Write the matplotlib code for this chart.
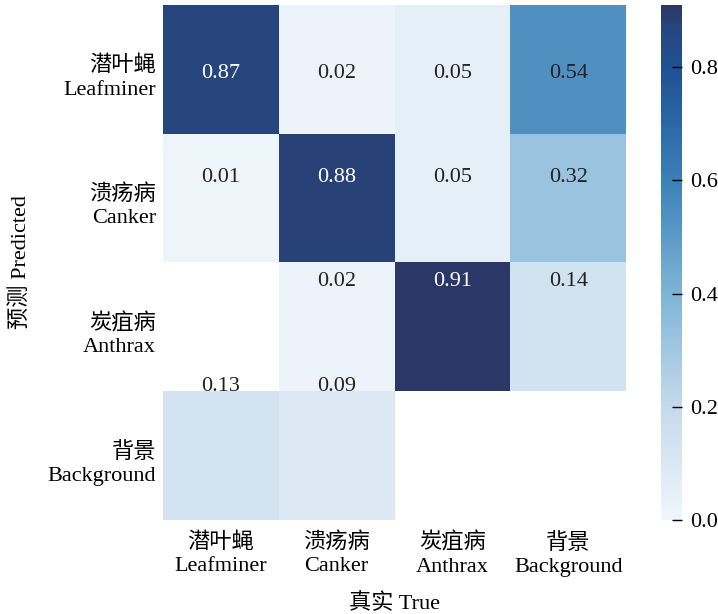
import numpy as np
import matplotlib
matplotlib.use('Agg')
import matplotlib.pyplot as plt
from matplotlib.colors import LinearSegmentedColormap
from matplotlib.transforms import ScaledTranslation
import seaborn as sns

plt.rcParams['font.family'] = ['Liberation Serif', 'Noto Sans CJK SC']

classes_cn = ['潜叶蝇', '溃疡病', '炭疽病', '背景']
classes_en = ['Leafminer', 'Canker', 'Anthrax', 'Background']
row_leafminer = [0.87, 0.02, 0.05, 0.54]
row_canker = [0.01, 0.88, 0.05, 0.32]
row_anthrax = [0.00, 0.02, 0.91, 0.14]
row_background = [0.13, 0.09, 0.00, 0.00]

cm = np.array([row_leafminer, row_canker, row_anthrax, row_background])
labels = [c + '\n' + e for c, e in zip(classes_cn, classes_en)]

# muted "Blues" as in the original figure
cmap = LinearSegmentedColormap.from_list('mblues', [
    (0.0, '#f0f6fb'), (0.22, '#c4d9ec'), (0.44, '#7db5d6'), (0.66, '#3b80b8'),
    (0.87, '#1f5294'), (0.955, '#26467e'), (1.0, '#2b3766')])

fig = plt.figure(figsize=(7.18, 6.14), dpi=100)
ax = fig.add_axes([0.227, 0.153, 0.645, 0.839])
cax = fig.add_axes([0.920, 0.153, 0.030, 0.839])

sns.heatmap(cm, ax=ax, cbar_ax=cax, cmap=cmap, vmin=0, vmax=cm.max(),
            mask=(cm == 0), linewidths=0,
            xticklabels=labels, yticklabels=labels, annot=False)

# annotations, placed the way the original figure had them (drifting upward)
for i in range(cm.shape[0]):
    for j in range(cm.shape[1]):
        v = cm[i, j]
        if v == 0:
            continue
        col = 'white' if v > 0.7 else '#222222'
        ax.text(j + 0.5, 0.53 + i * 0.81, '%.2f' % v, ha='center', va='center',
                fontsize=16, color=col)

ax.tick_params(length=0)
ax.tick_params(axis='y', pad=5)
ax.tick_params(axis='x', pad=9)
ax.set_yticklabels(labels, rotation=0, ha='right', fontsize=16, linespacing=1.3)
ax.set_xticklabels(labels, rotation=0, fontsize=16, linespacing=1.3)
shift = ScaledTranslation(0, -6 / 72, fig.dpi_scale_trans)
for t in ax.get_yticklabels():
    t.set_transform(t.get_transform() + shift)
ax.set_xlabel('真实 True', fontsize=16, labelpad=12)
ax.set_ylabel('预测 Predicted', fontsize=16)
ax.yaxis.set_label_coords(-0.285, 0.5)

cax.set_yticks([0.0, 0.2, 0.4, 0.6, 0.8])
cax.set_yticklabels(['0.0', '0.2', '0.4', '0.6', '0.8'])
cax.yaxis.set_tick_params(labelsize=16, length=7, width=1, direction='in', pad=6)
for s in cax.spines.values():
    s.set_visible(False)

fig.savefig('out.png', dpi=100)
